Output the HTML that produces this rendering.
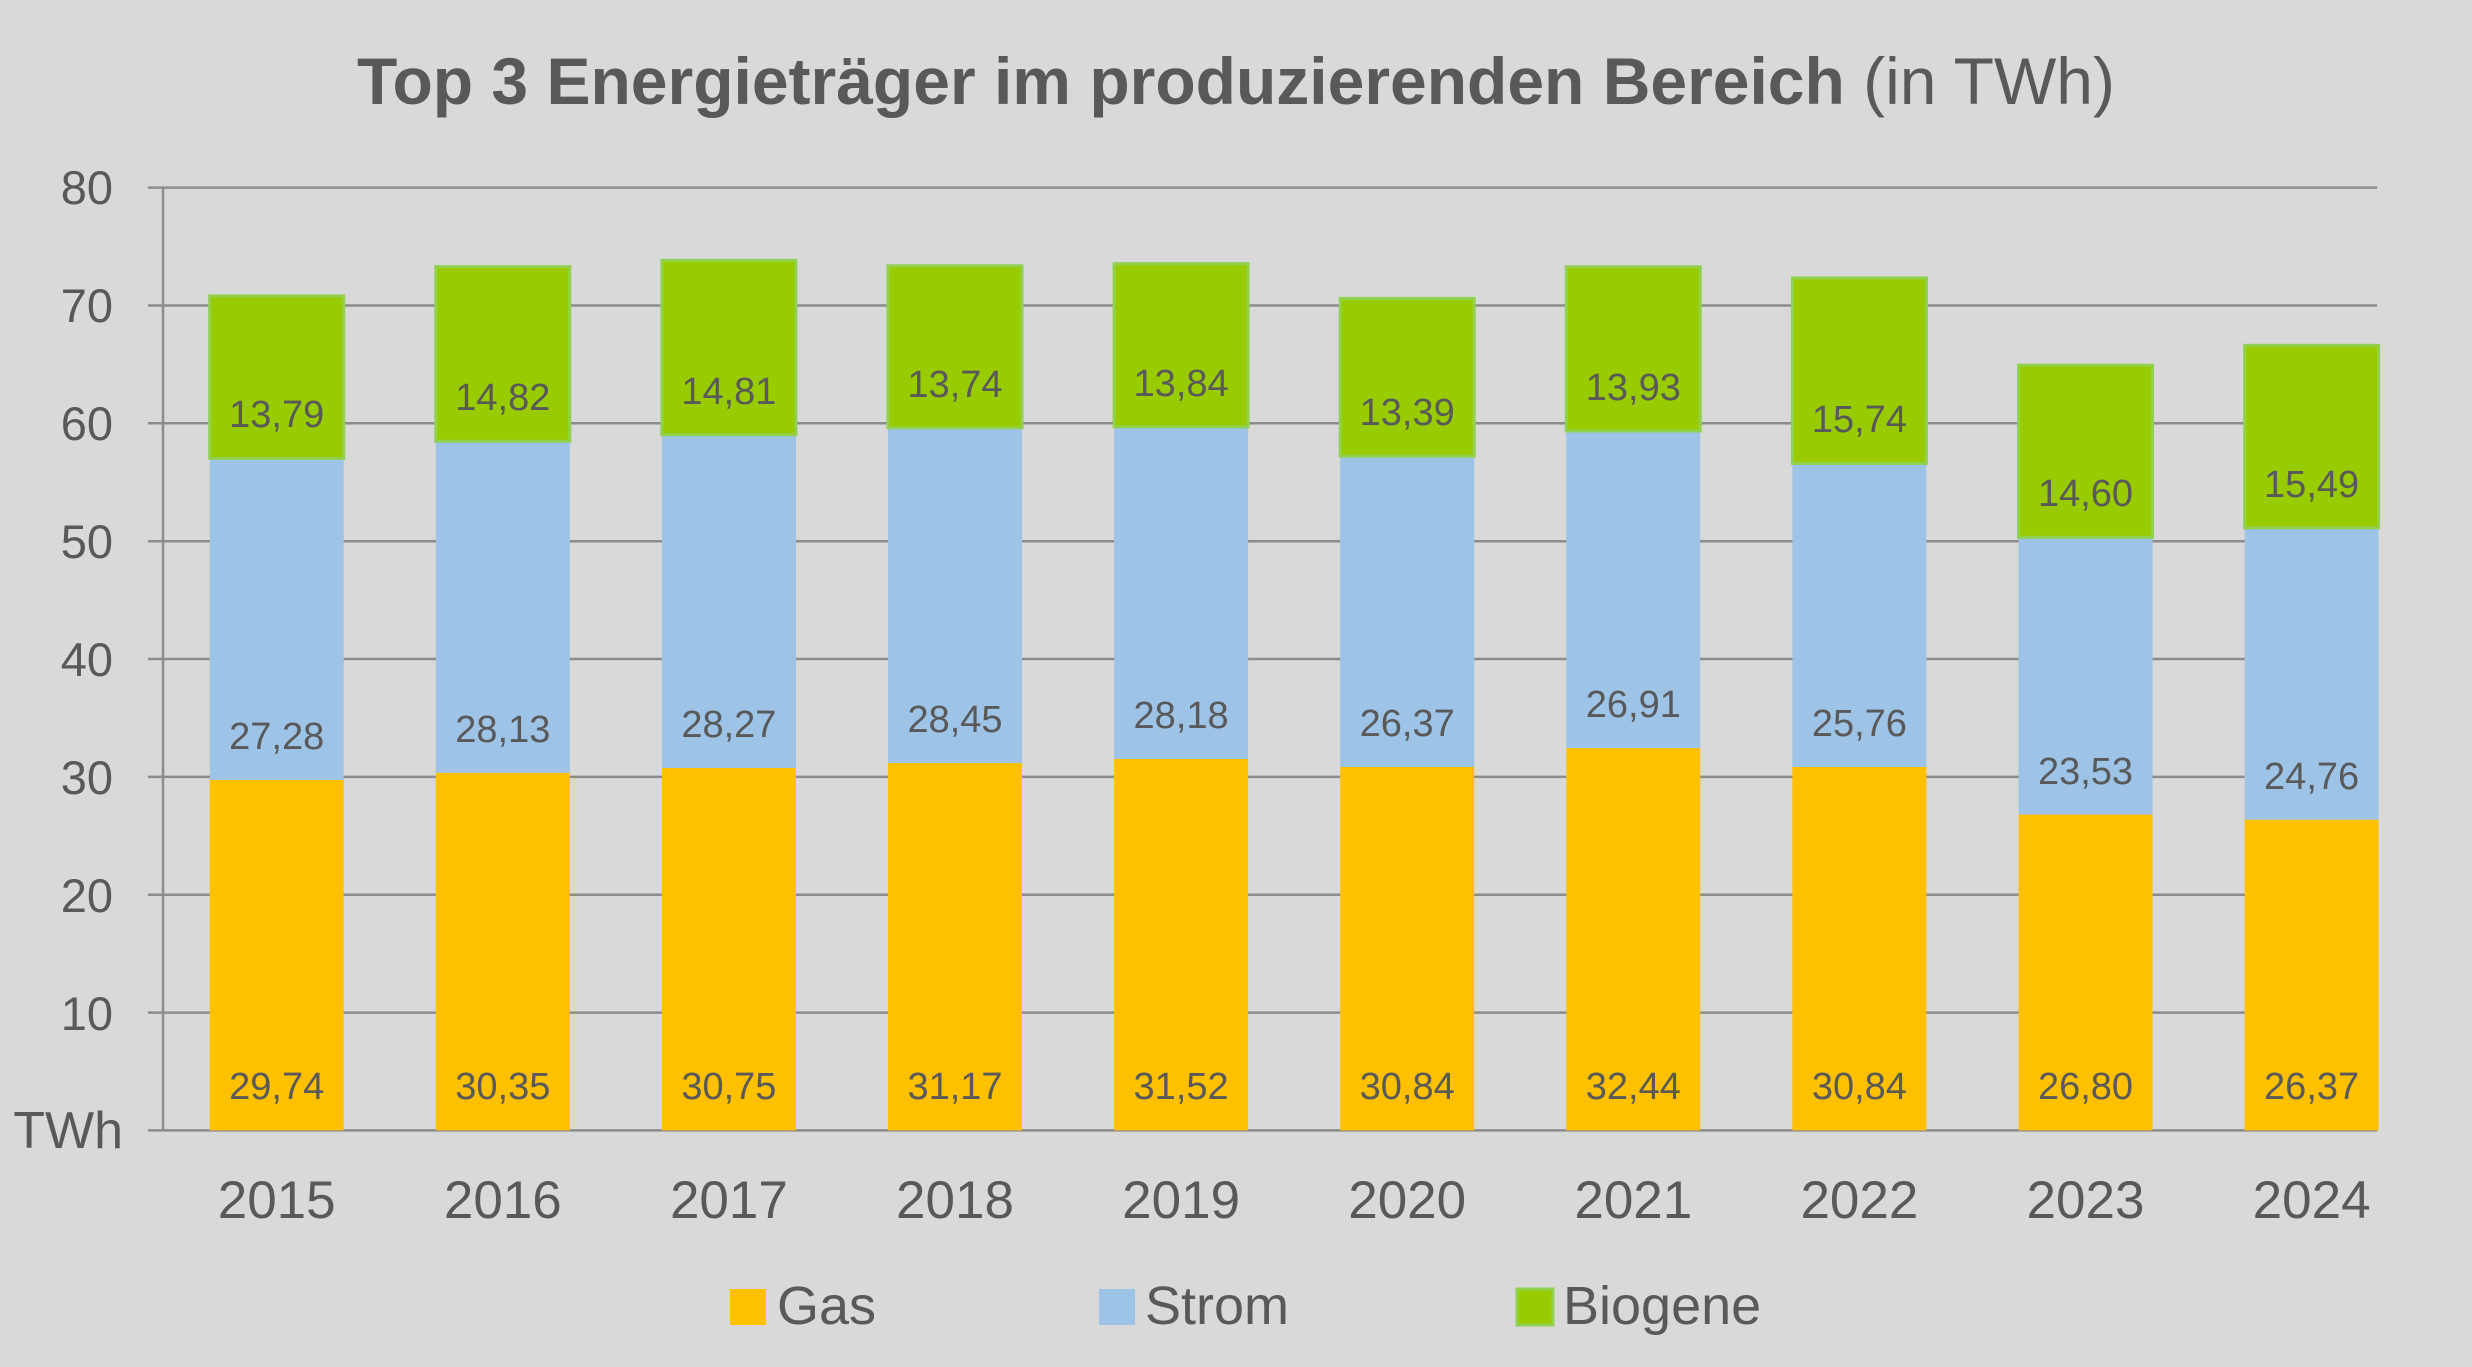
<!DOCTYPE html>
<html><head><meta charset="utf-8"><style>
html,body{margin:0;padding:0;background:#d9d9d9;}
svg{display:block;}
text{font-family:"Liberation Sans",sans-serif;fill:#595959;}
</style></head><body>
<svg width="2472" height="1367" viewBox="0 0 2472 1367" xmlns="http://www.w3.org/2000/svg">
<rect width="2472" height="1367" fill="#d9d9d9"/>
<text x="1236" y="104" font-size="66" text-anchor="middle"><tspan font-weight="bold">Top 3 Energieträger im produzierenden Bereich</tspan> (in TWh)</text>
<g stroke="#8c8c8c" stroke-width="2.5">
<line x1="148" x2="2377" y1="187.6" y2="187.6"/>
<line x1="148" x2="2377" y1="305.5" y2="305.5"/>
<line x1="148" x2="2377" y1="423.3" y2="423.3"/>
<line x1="148" x2="2377" y1="541.2" y2="541.2"/>
<line x1="148" x2="2377" y1="659.0" y2="659.0"/>
<line x1="148" x2="2377" y1="776.9" y2="776.9"/>
<line x1="148" x2="2377" y1="894.7" y2="894.7"/>
<line x1="148" x2="2377" y1="1012.6" y2="1012.6"/>
<line x1="148" x2="2377" y1="1130.4" y2="1130.4"/>
<line x1="163" x2="163" y1="187.6" y2="1130.4"/>
</g>
<g font-size="47" text-anchor="end">
<text x="113" y="204">80</text>
<text x="113" y="322">70</text>
<text x="113" y="440">60</text>
<text x="113" y="558">50</text>
<text x="113" y="676">40</text>
<text x="113" y="794">30</text>
<text x="113" y="912">20</text>
<text x="113" y="1030">10</text>
<text x="123" y="1148" font-size="52">TWh</text>
</g>
<g transform="translate(0,1130.4) scale(1,-11.785)">
<g fill="#ffc000">
<rect x="209.7" width="134" y="0" height="29.74"/>
<rect x="435.8" width="134" y="0" height="30.35"/>
<rect x="661.9" width="134" y="0" height="30.75"/>
<rect x="888.0" width="134" y="0" height="31.17"/>
<rect x="1114.1" width="134" y="0" height="31.52"/>
<rect x="1340.2" width="134" y="0" height="30.84"/>
<rect x="1566.3" width="134" y="0" height="32.44"/>
<rect x="1792.4" width="134" y="0" height="30.84"/>
<rect x="2018.5" width="134" y="0" height="26.80"/>
<rect x="2244.6" width="134" y="0" height="26.37"/>
</g>
<g fill="#9dc3e6">
<rect x="209.7" width="134" y="29.74" height="27.28"/>
<rect x="435.8" width="134" y="30.35" height="28.13"/>
<rect x="661.9" width="134" y="30.75" height="28.27"/>
<rect x="888.0" width="134" y="31.17" height="28.45"/>
<rect x="1114.1" width="134" y="31.52" height="28.18"/>
<rect x="1340.2" width="134" y="30.84" height="26.37"/>
<rect x="1566.3" width="134" y="32.44" height="26.91"/>
<rect x="1792.4" width="134" y="30.84" height="25.76"/>
<rect x="2018.5" width="134" y="26.80" height="23.53"/>
<rect x="2244.6" width="134" y="26.37" height="24.76"/>
</g>
</g>
<g fill="#99cc00" stroke="#92d050" stroke-width="3">
<rect x="209.7" width="134" y="295.9" height="162.5"/>
<rect x="435.8" width="134" y="266.6" height="174.6"/>
<rect x="661.9" width="134" y="260.3" height="174.5"/>
<rect x="888.0" width="134" y="265.8" height="162.0"/>
<rect x="1114.1" width="134" y="263.7" height="163.1"/>
<rect x="1340.2" width="134" y="298.4" height="157.8"/>
<rect x="1566.3" width="134" y="266.8" height="164.2"/>
<rect x="1792.4" width="134" y="277.9" height="185.5"/>
<rect x="2018.5" width="134" y="365.2" height="172.1"/>
<rect x="2244.6" width="134" y="345.3" height="182.5"/>
</g>
<g font-size="38" text-anchor="middle">
<text x="276.7" y="1099">29,74</text>
<text x="502.8" y="1099">30,35</text>
<text x="728.9" y="1099">30,75</text>
<text x="955.0" y="1099">31,17</text>
<text x="1181.1" y="1099">31,52</text>
<text x="1407.2" y="1099">30,84</text>
<text x="1633.3" y="1099">32,44</text>
<text x="1859.4" y="1099">30,84</text>
<text x="2085.5" y="1099">26,80</text>
<text x="2311.6" y="1099">26,37</text>
<text x="276.7" y="749">27,28</text>
<text x="502.8" y="742">28,13</text>
<text x="728.9" y="737">28,27</text>
<text x="955.0" y="732">28,45</text>
<text x="1181.1" y="728">28,18</text>
<text x="1407.2" y="736">26,37</text>
<text x="1633.3" y="717">26,91</text>
<text x="1859.4" y="736">25,76</text>
<text x="2085.5" y="784">23,53</text>
<text x="2311.6" y="789">24,76</text>
<text x="276.7" y="427">13,79</text>
<text x="502.8" y="410">14,82</text>
<text x="728.9" y="404">14,81</text>
<text x="955.0" y="397">13,74</text>
<text x="1181.1" y="396">13,84</text>
<text x="1407.2" y="425">13,39</text>
<text x="1633.3" y="400">13,93</text>
<text x="1859.4" y="432">15,74</text>
<text x="2085.5" y="506">14,60</text>
<text x="2311.6" y="497">15,49</text>
</g>
<g font-size="53" text-anchor="middle">
<text x="276.7" y="1218">2015</text>
<text x="502.8" y="1218">2016</text>
<text x="728.9" y="1218">2017</text>
<text x="955.0" y="1218">2018</text>
<text x="1181.1" y="1218">2019</text>
<text x="1407.2" y="1218">2020</text>
<text x="1633.3" y="1218">2021</text>
<text x="1859.4" y="1218">2022</text>
<text x="2085.5" y="1218">2023</text>
<text x="2311.6" y="1218">2024</text>
</g>
<rect x="730" y="1289" width="36" height="36" fill="#ffc000"/>
<text x="777" y="1324" font-size="54">Gas</text>
<rect x="1099" y="1289" width="36" height="36" fill="#9dc3e6"/>
<text x="1145" y="1324" font-size="54">Strom</text>
<rect x="1517" y="1289" width="36" height="36" fill="#99cc00" stroke="#92d050" stroke-width="3"/>
<text x="1563" y="1324" font-size="54">Biogene</text>
</svg>
</body></html>
